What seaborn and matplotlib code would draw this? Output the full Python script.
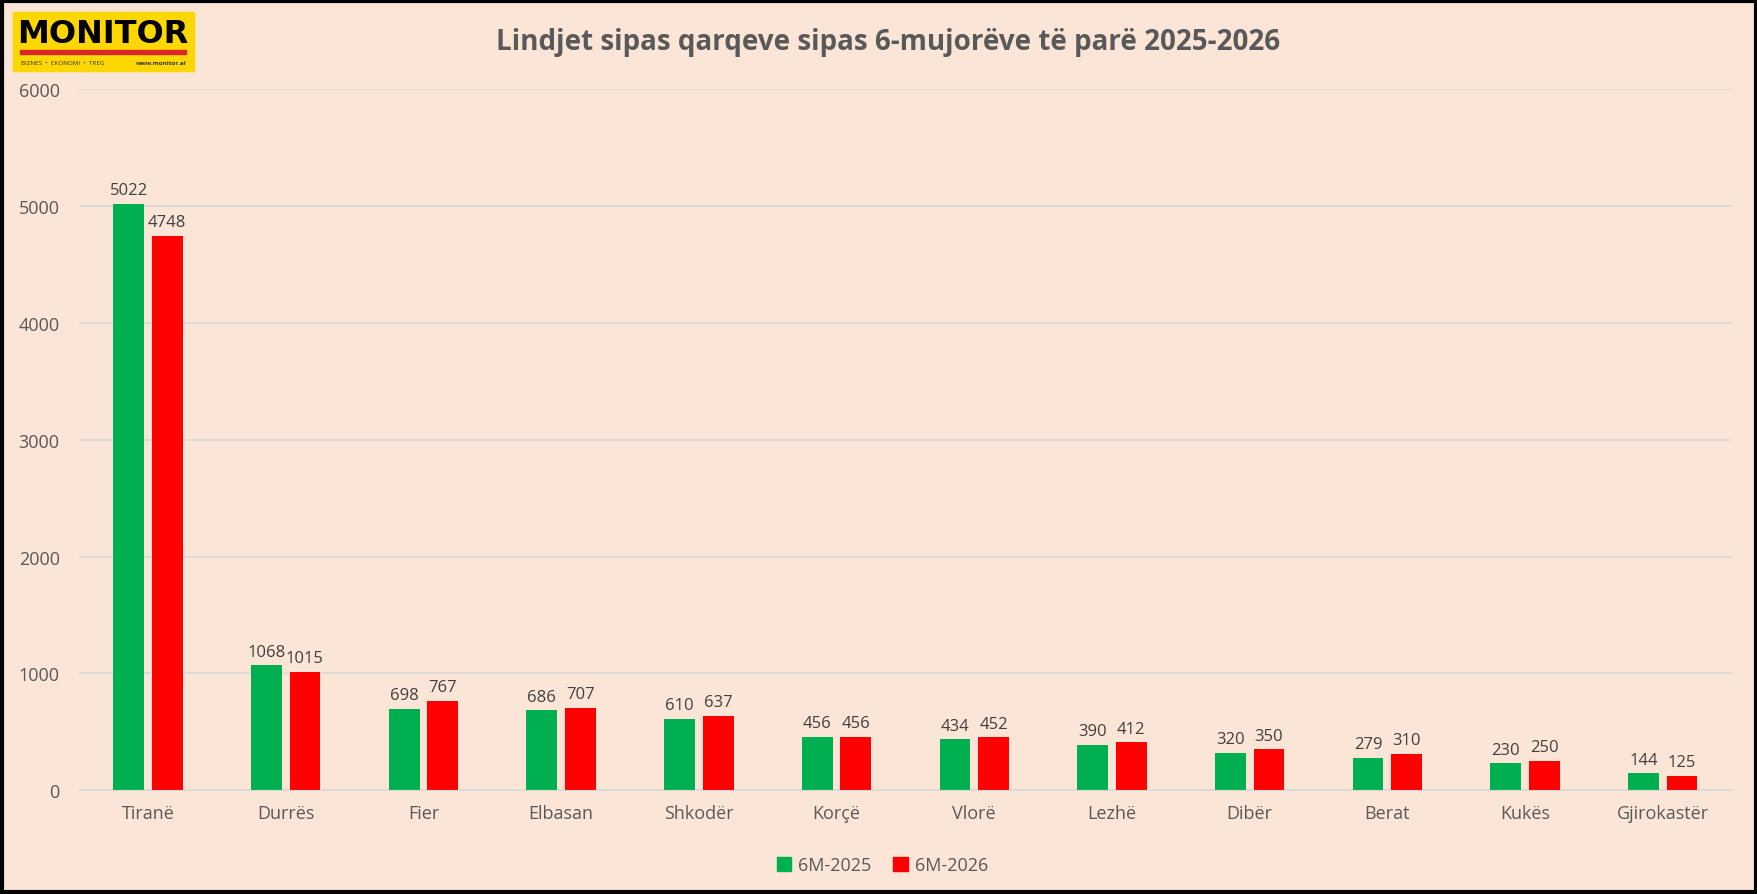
import matplotlib.pyplot as plt
import matplotlib.patches as mpatches
import pandas as pd
import seaborn as sns

regions = ['Tiranë', 'Durrës', 'Fier', 'Elbasan', 'Shkodër', 'Korçë', 'Vlorë',
           'Lezhë', 'Dibër', 'Berat', 'Kukës', 'Gjirokastër']
births_2025 = [5022, 1068, 698, 686, 610, 456, 434, 390, 320, 279, 230, 144]
births_2026 = [4748, 1015, 767, 707, 637, 456, 452, 412, 350, 310, 250, 125]
series = ['6M-2025', '6M-2026']
colors = ['#00B050', '#FF0000']

df = pd.DataFrame({
    'qarku': regions * 2,
    'periudha': [series[0]] * len(regions) + [series[1]] * len(regions),
    'lindje': births_2025 + births_2026,
})

bg = '#FBE5D6'
txt = '#595959'
sns.set_style('white')
plt.rcParams['font.family'] = ['Open Sans', 'DejaVu Sans']

fig = plt.figure(figsize=(17.58, 8.95), dpi=100, facecolor=bg)
ax = fig.add_axes([0.045, 0.116, 0.94, 0.783])
ax.set_facecolor(bg)

sns.barplot(data=df, x='qarku', y='lindje', hue='periudha', palette=colors,
            width=0.56, gap=0.2, saturation=1, linewidth=0, ax=ax, legend=False)

for cont in ax.containers:
    ax.bar_label(cont, padding=4, fontsize=12, color='#404040')

ax.set_ylim(0, 6000)
ax.set_xlim(-0.5, len(regions) - 0.5)
ax.set_yticks(range(0, 6001, 1000))
ax.yaxis.grid(True, color='#D9D9D9', linewidth=1.2)
ax.set_axisbelow(True)
for s in ['left', 'right', 'top']:
    ax.spines[s].set_visible(False)
ax.spines['bottom'].set_color('#D9D9D9')
ax.set_xlabel('')
ax.set_ylabel('')
ax.tick_params(axis='both', length=0, labelsize=13, colors=txt)
ax.tick_params(axis='y', pad=14)
ax.tick_params(axis='x', pad=10)

fig.text(0.505, 0.952, 'Lindjet sipas qarqeve sipas 6-mujorëve të parë 2025-2026',
         ha='center', va='center', fontsize=20, fontweight='bold', color=txt)

handles = [mpatches.Patch(color=c, label=l) for c, l in zip(colors, series)]
fig.legend(handles=handles, loc='center', bbox_to_anchor=(0.502, 0.032), ncol=2,
           frameon=False, fontsize=13, handlelength=0.8, handleheight=0.8,
           handletextpad=0.4, columnspacing=1.2, labelcolor=txt)

# logo
fig.patches.append(mpatches.Rectangle((0.0074, 0.919), 0.103, 0.066,
                                      transform=fig.transFigure, color='#FFD700'))
fig.text(0.0585, 0.961, 'MONITOR', ha='center', va='center', fontsize=23,
         fontweight='bold', color='black', family='DejaVu Sans')
fig.patches.append(mpatches.Rectangle((0.0115, 0.939), 0.0945, 0.0045,
                                      transform=fig.transFigure, color='#D9262B'))
fig.text(0.0118, 0.929, 'BIZNES  •  EKONOMI  •  TREG', ha='left', va='center',
         fontsize=4.5, color='#333333')
fig.text(0.106, 0.929, 'www.monitor.al', ha='right', va='center',
         fontsize=4.5, color='#333333', fontweight='bold')

# border
fig.patches.append(mpatches.Rectangle((0.001, 0.002), 0.998, 0.996, transform=fig.transFigure,
                                      fill=False, edgecolor='black', linewidth=3))

fig.savefig('out.png', dpi=100, facecolor=bg)
